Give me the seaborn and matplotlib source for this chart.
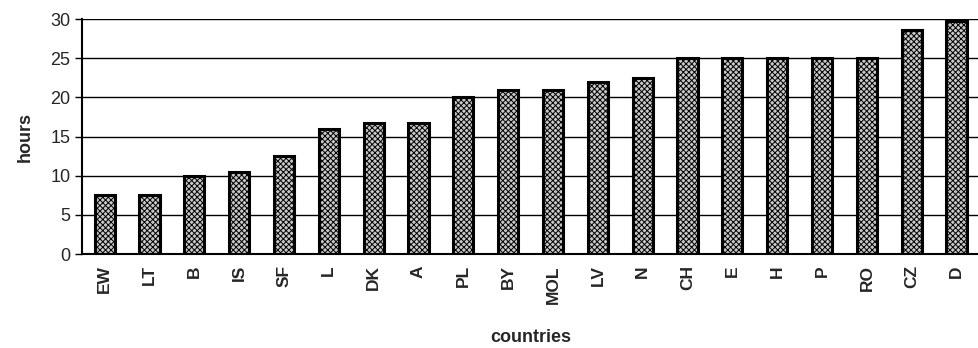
import pandas as pd
import numpy as np
import matplotlib.pyplot as plt
import seaborn as sns

# 데이터
countries = ['EW', 'LT', 'B', 'IS', 'SF', 'L', 'DK', 'A', 'PL', 'BY',
             'MOL', 'LV', 'N', 'CH', 'E', 'H', 'P', 'RO', 'CZ', 'D']
hours = [7.5, 7.5, 10, 10.5, 12.5, 16, 16.7, 16.7, 20, 21,
         21, 22, 22.5, 25, 25, 25, 25, 25, 28.6, 29.7]

df = pd.DataFrame({'countries': countries, 'hours': hours})

sns.set_style('white')
plt.rcParams['font.family'] = ['Liberation Sans', 'DejaVu Sans']
plt.rcParams['hatch.linewidth'] = 0.7

fig = plt.figure(figsize=(9.79, 3.48), dpi=100)
ax = fig.add_axes([0.084, 0.27, 0.916, 0.675])

sns.barplot(data=df, x='countries', y='hours', ax=ax, width=0.45,
            color='#c8c8c8', edgecolor='black', linewidth=2.2, saturation=1)
for p in ax.patches:
    p.set_hatch('xxxxxx')

ax.set_ylim(0, 30)
ax.set_xlim(-0.5, len(countries) - 0.5)
ax.set_yticks(range(0, 31, 5))
ax.yaxis.grid(True, color='black', linewidth=1.0)
ax.set_axisbelow(True)

for s in ['top', 'right']:
    ax.spines[s].set_visible(False)
ax.spines['left'].set_color('black')
ax.spines['left'].set_linewidth(1.5)
ax.spines['bottom'].set_color('black')
ax.spines['bottom'].set_linewidth(1.5)

# 카테고리 사이 눈금
ax.set_xticks(np.arange(len(countries)) + 0.5, minor=True)
ax.tick_params(axis='x', which='major', length=0, pad=8)
ax.tick_params(axis='x', which='minor', length=8, direction='inout', color='black', width=1)
ax.tick_params(axis='y', which='major', length=5, direction='out', color='black', width=1,
               left=True, labelsize=13)
ax.set_xticks(range(len(countries)))
ax.set_xticklabels(countries, rotation=90, fontsize=12.5, fontweight='bold')

ax.set_xlabel('countries', fontsize=13, fontweight='bold', labelpad=18)
ax.set_ylabel('hours', fontsize=13, fontweight='bold', labelpad=12)

plt.savefig('out.png', dpi=100)
